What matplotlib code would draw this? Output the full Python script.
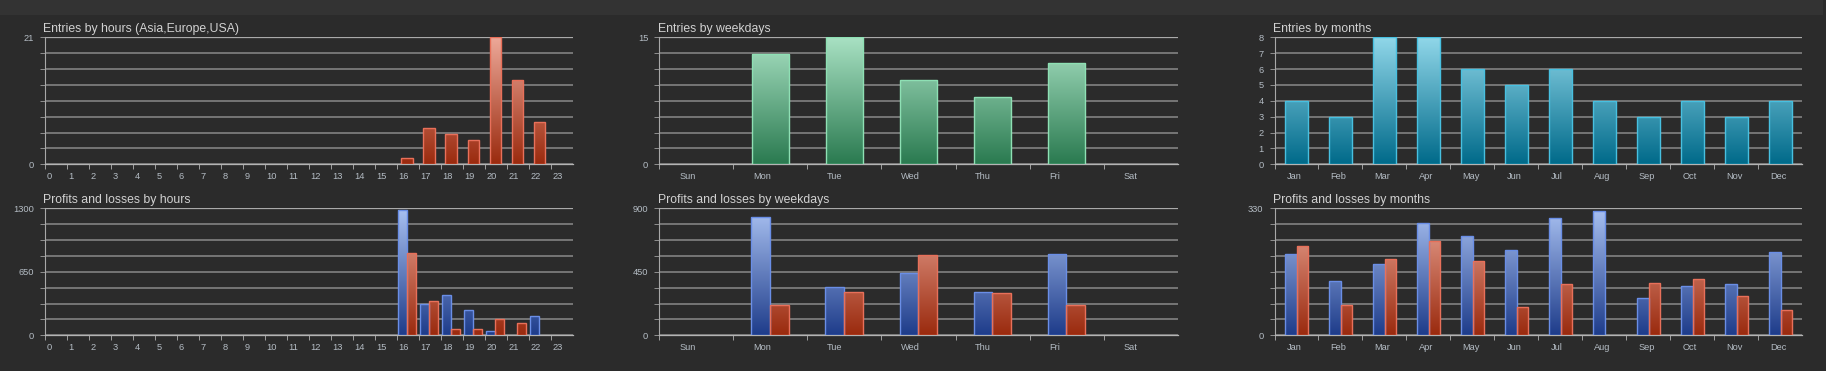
import numpy as np
import matplotlib
matplotlib.use("Agg")
import matplotlib.pyplot as plt
from matplotlib.colors import LinearSegmentedColormap
from matplotlib.patches import Rectangle

# ---------------- data ----------------
hours = [str(h) for h in range(24)]
entries_by_hour = [0, 0, 0, 0, 0, 0, 0, 0, 0, 0, 0, 0, 0, 0, 0, 0, 1, 6, 5, 4, 21, 14, 7, 0]
profit_by_hour = [0, 0, 0, 0, 0, 0, 0, 0, 0, 0, 0, 0, 0, 0, 0, 0, 1280, 321, 413, 256, 44, 0, 194, 0]
loss_by_hour = [0, 0, 0, 0, 0, 0, 0, 0, 0, 0, 0, 0, 0, 0, 0, 0, 843, 348, 68, 65, 164, 123, 0, 0]

weekdays = ["Sun", "Mon", "Tue", "Wed", "Thu", "Fri", "Sat"]
entries_by_weekday = [0, 13, 15, 10, 8, 12, 0]
profit_by_weekday = [0, 836, 340, 444, 309, 579, 0]
loss_by_weekday = [0, 215, 307, 569, 300, 215, 0]

months = ["Jan", "Feb", "Mar", "Apr", "May", "Jun", "Jul", "Aug", "Sep", "Oct", "Nov", "Dec"]
entries_by_month = [4, 3, 8, 8, 6, 5, 6, 4, 3, 4, 3, 4]
profit_by_month = [211, 140, 184, 292, 259, 221, 306, 323, 97, 128, 134, 216]
loss_by_month = [231, 79, 198, 245, 192, 74, 133, 0, 135, 145, 103, 65]

titles = ["Entries by hours (Asia,Europe,USA)", "Entries by weekdays", "Entries by months",
          "Profits and losses by hours", "Profits and losses by weekdays", "Profits and losses by months"]

# ---------------- style ----------------
BG = "#2b2b2b"
BAND = "#333333"
GRID = "#868686"
GRID_TOP = "#aaaaaa"
AXIS = "#a8a8a8"
TICKTXT = "#b4bcc4"
TITLE = "#d2d2d2"

RED = ("#eeaa9a", "#9a2a0e", "#e8705a")
GREEN = ("#aae2c4", "#2a7a50", "#8ee0b4")
CYAN = ("#92d8ea", "#006a8a", "#48c0e0")
BLUE = ("#aac2f2", "#1e3c8a", "#6a8ee6")

plt.rcParams["font.family"] = ["Liberation Sans", "DejaVu Sans"]

W, H = 1826, 371
fig = plt.figure(figsize=(W / 100, H / 100), dpi=100)
fig.patch.set_facecolor(BG)
fig.patches.append(Rectangle((0, (H - 15) / H), 1823 / W, 15 / H, transform=fig.transFigure,
                             facecolor=BAND, edgecolor="none", zorder=0))

cols = [(44.8, 572.9), (659.3, 1177.7), (1274.5, 1802.4)]
rows = [(37.3, 164.3), (208.3, 335.3)]


def make_ax(r, c):
    x0, x1 = cols[c]
    y0, y1 = rows[r]
    ax = fig.add_axes([x0 / W, (H - y1) / H, (x1 - x0) / W, (y1 - y0) / H])
    ax.set_facecolor(BG)
    return ax


def grad_bars(ax, x, h, w, colors, ymax):
    top, bottom, edge = colors
    bars = ax.bar(x, h, w, facecolor="none", edgecolor=edge, linewidth=1.0, zorder=4)
    cmap = LinearSegmentedColormap.from_list("g", [bottom, top])
    grad = np.linspace(0, 1, 256).reshape(-1, 1)
    for b in bars:
        if b.get_height() <= 0:
            b.set_visible(False)
            continue
        bx = b.get_x()
        im = ax.imshow(grad, cmap=cmap, origin="lower", aspect="auto",
                       extent=[bx, bx + b.get_width(), 0, ymax], zorder=3,
                       interpolation="bilinear")
        im.set_clip_path(b)
    return bars


def style(ax, title, cats, ymax, ylabels, label_off):
    n = len(cats)
    ax.set_xlim(0, n)
    ax.set_ylim(0, ymax)
    yt = np.linspace(0, ymax, 9)
    ax.set_yticks(yt)
    labs = []
    for v in yt:
        labs.append(str(int(round(v))) if any(abs(v - l) < 1e-6 for l in ylabels) else "")
    ax.set_yticklabels(labs)
    ax.grid(axis="y", color=GRID, linewidth=1.15, zorder=1)
    ax.set_axisbelow(True)
    gl = ax.yaxis.get_gridlines()
    gl[-1].set_color(GRID_TOP)
    gl[-1].set_linewidth(0.9)
    for s in ("top", "right"):
        ax.spines[s].set_visible(False)
    ax.spines["left"].set_color(AXIS)
    ax.spines["bottom"].set_color("#b4b4b4")
    ax.spines["left"].set_linewidth(0.8)
    ax.spines["bottom"].set_linewidth(0.9)
    ax.tick_params(axis="y", direction="out", length=3.6, width=0.7, color="#909090",
                   labelsize=6.7, labelcolor=TICKTXT, pad=4.3)
    ax.set_xticks(np.arange(n))
    ax.set_xticklabels([])
    ax.set_xticks(np.arange(n) + label_off, minor=True)
    ax.set_xticklabels(cats, minor=True)
    ax.tick_params(axis="x", which="major", direction="out", length=3.4, width=0.7, color="#a0a0a0")
    ax.tick_params(axis="x", which="minor", length=0, labelsize=6.7, labelcolor=TICKTXT, pad=5.3)
    for t in ax.get_xticklabels(minor=True):
        t.set_ha("left")
    ax.text(-0.003, 1.045, title, transform=ax.transAxes, ha="left", va="baseline",
            fontsize=8.8, color=TITLE)


# top row: entries
ax = make_ax(0, 0)
xh = np.arange(24)
grad_bars(ax, xh + 0.47, entries_by_hour, 0.52, RED, 21)
style(ax, titles[0], hours, 21, [21, 0], 0.07)

ax = make_ax(0, 1)
xw = np.arange(7)
grad_bars(ax, xw + 0.5, entries_by_weekday, 0.5, GREEN, 15)
style(ax, titles[1], weekdays, 15, [15, 0], 0.267)

ax = make_ax(0, 2)
xm = np.arange(12)
grad_bars(ax, xm + 0.5, entries_by_month, 0.52, CYAN, 8)
style(ax, titles[2], months, 8, list(range(9)), 0.273)

# bottom row: profits and losses
ax = make_ax(1, 0)
grad_bars(ax, xh + 0.265, profit_by_hour, 0.39, BLUE, 1300)
grad_bars(ax, xh + 0.67, loss_by_hour, 0.39, RED, 1300)
style(ax, titles[3], hours, 1300, [1300, 650, 0], 0.07)

ax = make_ax(1, 1)
grad_bars(ax, xw + 0.369, profit_by_weekday, 0.25, BLUE, 900)
grad_bars(ax, xw + 0.623, loss_by_weekday, 0.25, RED, 900)
style(ax, titles[4], weekdays, 900, [900, 450, 0], 0.267)

ax = make_ax(1, 2)
grad_bars(ax, xm + 0.374, profit_by_month, 0.265, BLUE, 330)
grad_bars(ax, xm + 0.64, loss_by_month, 0.265, RED, 330)
style(ax, titles[5], months, 330, [330, 0], 0.273)

fig.savefig("out.png", dpi=100, facecolor=BG)
